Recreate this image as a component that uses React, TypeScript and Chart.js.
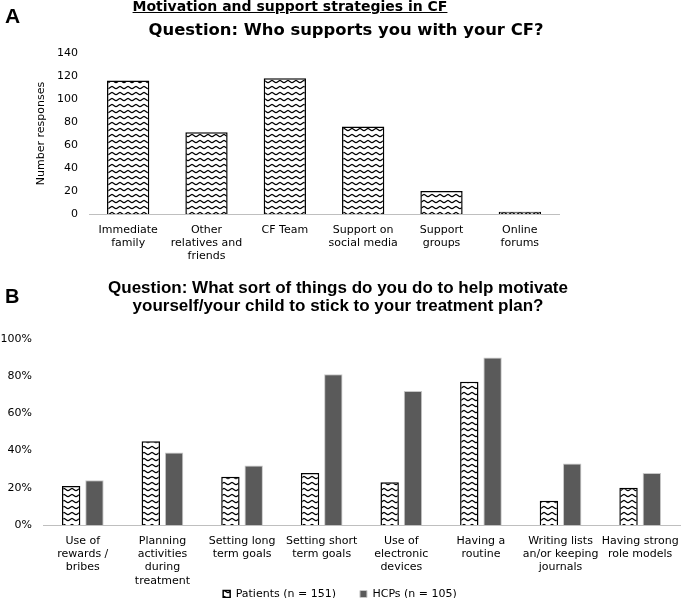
import React, { useEffect, useRef } from 'react';
import { Chart, registerables } from 'chart.js';

Chart.register(...registerables);

// ---------- data ----------
const supportCategories: string[][] = [
  ['Immediate', 'family'],
  ['Other', 'relatives and', 'friends'],
  ['CF Team'],
  ['Support on', 'social media'],
  ['Support', 'groups'],
  ['Online', 'forums'],
];
const supportValues: number[] = [116, 71, 118, 76, 20, 2];
const supportMax = 140;
const supportStep = 20;

const motivationCategories: string[][] = [
  ['Use of', 'rewards /', 'bribes'],
  ['Planning', 'activities', 'during', 'treatment'],
  ['Setting long', 'term goals'],
  ['Setting short', 'term goals'],
  ['Use of', 'electronic', 'devices'],
  ['Having a', 'routine'],
  ['Writing lists', 'an/or keeping', 'journals'],
  ['Having strong', 'role models'],
];
const patientsValues: number[] = [21, 45, 26, 28, 23, 77, 13, 20];
const hcpValues: number[] = [24, 39, 32, 81, 72, 90, 33, 28];
const patientsLabel = 'Patients (n = 151)';
const hcpLabel = 'HCPs (n = 105)';
const percentMax = 100;
const percentStep = 20;

const mainTitle = 'Motivation and support strategies in CF';
const titleA = 'Question: Who supports you with your CF?';
const titleB = [
  'Question: What sort of things do you do to help motivate',
  'yourself/your child to stick to your treatment plan?',
];

const FONT = "'DejaVu Sans', Verdana, sans-serif";

function makeWavePattern(): CanvasPattern | string {
  const tile = document.createElement('canvas');
  tile.width = 8;
  tile.height = 6;
  const t = tile.getContext('2d');
  if (!t) return '#fff';
  t.fillStyle = '#ffffff';
  t.fillRect(0, 0, 8, 6);
  t.strokeStyle = '#000000';
  t.lineWidth = 1.2;
  t.beginPath();
  t.moveTo(-1, 2.2);
  t.bezierCurveTo(1, 2.2, 2.5, 4.6, 4, 4.6);
  t.bezierCurveTo(5.5, 4.6, 7, 2.2, 9, 2.2);
  t.stroke();
  const p = t.createPattern(tile, 'repeat');
  return p || '#fff';
}

const legendShift = {
  id: 'legendShift',
  afterLayout(chart: any) {
    const l = chart.legend;
    if (l) {
      l.top -= 25.5;
      l.bottom -= 25.5;
    }
  },
};

export default function App() {
  const aRef = useRef<HTMLCanvasElement>(null);
  const bRef = useRef<HTMLCanvasElement>(null);

  useEffect(() => {
    Chart.defaults.font.family = FONT;
    Chart.defaults.font.size = 11;
    Chart.defaults.color = '#000';
    const pattern = makeWavePattern();

    const chartA = new Chart(aRef.current as HTMLCanvasElement, {
      type: 'bar',
      data: {
        labels: supportCategories,
        datasets: [
          {
            label: 'Number responses',
            data: supportValues,
            backgroundColor: pattern as any,
            borderColor: '#000',
            borderWidth: 1.5,
            categoryPercentage: 0.54,
            barPercentage: 1,
          },
        ],
      },
      options: {
        responsive: false,
        animation: false,
        layout: { padding: { top: 53, right: 130, bottom: 0, left: 0 } },
        plugins: { legend: { display: false }, tooltip: { enabled: false } },
        scales: {
          x: {
            grid: { display: false, drawTicks: false },
            border: { display: true, color: '#bfbfbf', width: 1 },
            ticks: {
              color: '#000',
              font: { size: 11, lineHeight: 1.22 },
              padding: 9,
              maxRotation: 0,
              minRotation: 0,
              autoSkip: false,
            },
            afterFit: (s: any) => {
              s.height = 54;
            },
          },
          y: {
            min: 0,
            max: supportMax,
            grid: { display: false, drawTicks: false },
            border: { display: false },
            ticks: { stepSize: supportStep, color: '#000', font: { size: 11 }, padding: 11 },
            title: {
              display: true,
              text: 'Number responses',
              color: '#000',
              font: { size: 11 },
              padding: { top: 35, bottom: 0 },
            },
            afterFit: (s: any) => {
              s.width = 89;
            },
          },
        },
      },
    });

    const chartB = new Chart(bRef.current as HTMLCanvasElement, {
      type: 'bar',
      data: {
        labels: motivationCategories,
        datasets: [
          {
            label: patientsLabel,
            data: patientsValues,
            backgroundColor: pattern as any,
            borderColor: '#000',
            borderWidth: 1.5,
            categoryPercentage: 0.585,
            barPercentage: 0.79,
          },
          {
            label: hcpLabel,
            data: hcpValues,
            backgroundColor: '#5a5a5a',
            borderColor: '#c8c8c8',
            borderWidth: 1,
            categoryPercentage: 0.585,
            barPercentage: 0.79,
          },
        ],
      },
      plugins: [legendShift],
      options: {
        responsive: false,
        animation: false,
        layout: { padding: { top: 69, right: 9, bottom: 0, left: 0 } },
        plugins: {
          tooltip: { enabled: false },
          legend: {
            display: true,
            position: 'bottom',
            labels: {
              boxWidth: 7,
              boxHeight: 7,
              padding: 24,
              color: '#000',
              font: { size: 11 },
            },
          },
        },
        scales: {
          x: {
            grid: { display: false, drawTicks: false },
            border: { display: true, color: '#bfbfbf', width: 1 },
            ticks: {
              color: '#000',
              font: { size: 11, lineHeight: 1.22 },
              padding: 9,
              maxRotation: 0,
              minRotation: 0,
              autoSkip: false,
            },
            afterFit: (s: any) => {
              s.height = 65;
            },
          },
          y: {
            min: 0,
            max: percentMax,
            grid: { display: false, drawTicks: false },
            border: { display: false },
            ticks: {
              stepSize: percentStep,
              color: '#000',
              font: { size: 11 },
              padding: 11,
              callback: (v: any) => v + '%',
            },
            afterFit: (s: any) => {
              s.width = 43;
            },
          },
        },
      },
    });

    return () => {
      chartA.destroy();
      chartB.destroy();
    };
  }, []);

  return (
    <div
      style={{
        position: 'fixed',
        left: 0,
        top: 0,
        width: 689,
        height: 598,
        overflow: 'hidden',
        background: '#fff',
      }}
    >
      <canvas
        ref={aRef}
        width={689}
        height={268}
        style={{ position: 'absolute', left: 0, top: 0, width: 689, height: 268 }}
      />
      <canvas
        ref={bRef}
        width={689}
        height={365}
        style={{ position: 'absolute', left: 0, top: 270, width: 689, height: 365 }}
      />
      <div
        style={{
          position: 'absolute',
          left: 5,
          top: 5,
          font: "bold 21px 'Liberation Sans', Arial, sans-serif",
          lineHeight: '21px',
        }}
      >
        A
      </div>
      <div
        style={{
          position: 'absolute',
          left: 0,
          top: -1,
          width: 580,
          textAlign: 'center',
          font: `bold 14px ${FONT}`,
          lineHeight: '14px',
          textDecoration: 'underline',
          whiteSpace: 'nowrap',
        }}
      >
        {mainTitle}
      </div>
      <div
        style={{
          position: 'absolute',
          left: 0,
          top: 22,
          width: 692,
          textAlign: 'center',
          font: `bold 16.4px ${FONT}`,
          lineHeight: '16px',
          whiteSpace: 'nowrap',
        }}
      >
        {titleA}
      </div>
      <div
        style={{
          position: 'absolute',
          left: 5,
          top: 286,
          font: "bold 20px 'Liberation Sans', Arial, sans-serif",
          lineHeight: '20px',
        }}
      >
        B
      </div>
      <div
        style={{
          position: 'absolute',
          left: 0,
          top: 279,
          width: 676,
          textAlign: 'center',
          font: "bold 17px 'Liberation Sans', Arial, sans-serif",
          lineHeight: '18px',
          whiteSpace: 'nowrap',
        }}
      >
        <div>{titleB[0]}</div>
        <div>{titleB[1]}</div>
      </div>
    </div>
  );
}
